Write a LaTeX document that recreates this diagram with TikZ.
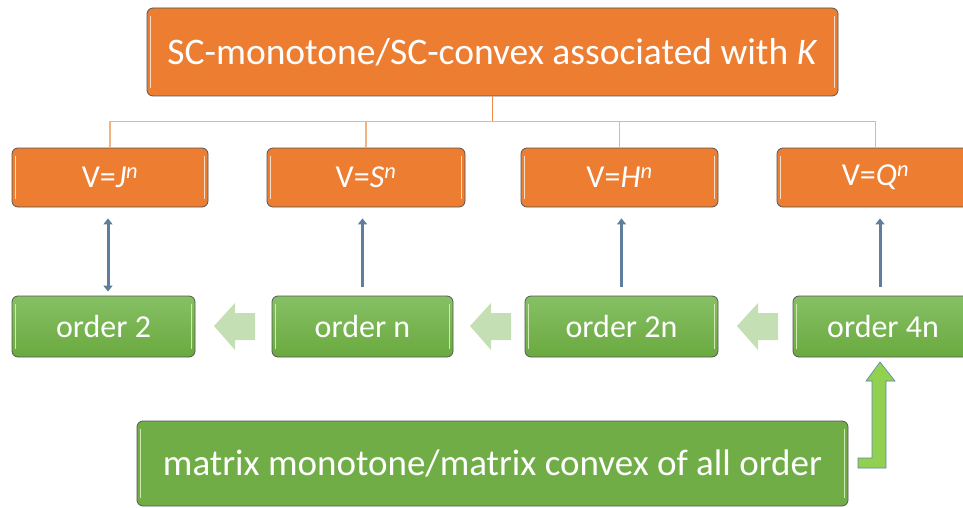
\documentclass[tikz,border=0pt]{standalone}
\usepackage{fontspec}
\setmainfont{Carlito}
\usetikzlibrary{arrows.meta}
\definecolor{orangefill}{HTML}{ED7D31}
\definecolor{greenfill}{HTML}{70AD47}
\definecolor{greenlight}{HTML}{86C064}
\definecolor{greendeep}{HTML}{6AA93F}
\definecolor{boxedge}{HTML}{555555}
\definecolor{treeline}{HTML}{F4B183}
\definecolor{treeroot}{HTML}{EE8A4A}
\definecolor{linkblue}{HTML}{5F7D9C}
\definecolor{stepgreen}{HTML}{C5DFB5}
\definecolor{liftgreen}{HTML}{92D050}
\definecolor{liftedge}{HTML}{5A82B8}
\definecolor{glossorange}{HTML}{FBDCC6}
\definecolor{glossgreen}{HTML}{CFEAB0}

\begin{document}
\begin{tikzpicture}[x=1pt,y=-1pt,
  box/.style={rectangle, rounded corners=6pt, draw=boxedge, line width=0.8pt,
    text=white, inner sep=0pt, align=center},
  headbox/.style={box, fill=orangefill, font=\fontsize{37.5}{40}\selectfont},
  spacebox/.style={box, fill=orangefill, minimum height=59pt,
    font=\fontsize{32}{36}\selectfont},
  orderbox/.style={box, top color=greenlight, bottom color=greendeep,
    minimum height=61pt, font=\fontsize{32}{36}\selectfont},
  allbox/.style={box, fill=greenfill, font=\fontsize{37}{40}\selectfont},
  tree/.style={draw=treeline, line width=1.4pt},
  link/.style={draw=linkblue, line width=3pt,
    -{Triangle[length=6pt,width=9pt]}},
  twolink/.style={draw=linkblue, line width=3pt,
    {Triangle[length=6pt,width=9pt]}-{Triangle[length=6pt,width=9pt]}},
  stepflow/.style={fill=stepgreen},
  lift/.style={fill=liftgreen, draw=liftedge, line width=0.6pt},
  glosso/.style={draw=glossorange, line width=1.3pt},
  glossg/.style={draw=glossgreen, line width=1.3pt}
]
\useasboundingbox (0,0) rectangle (963,508);
\clip (0,0) rectangle (963,508);

% head box
\node[headbox, minimum width=691pt, minimum height=88pt] (head) at (492.5,52)
  {SC-monotone/SC-convex associated with \textit{K}};

% the four spaces
\node[spacebox, minimum width=196pt] (vj) at (110,177.5) {V=\textit{J}\textsuperscript{\textit{n}}};
\node[spacebox, minimum width=198pt] (vs) at (366,177.5) {V=\textit{S}\textsuperscript{\textit{n}}};
\node[spacebox, minimum width=197pt] (vh) at (619.5,177.5) {V=\textit{H}\textsuperscript{\textit{n}}};
\node[spacebox, minimum width=197pt] (vq) at (875.5,177.5) {V=\textit{Q}\textsuperscript{\textit{n}}};

% the four orders
\node[orderbox, minimum width=183pt] (o2) at (103.5,326.5) {order 2};
\node[orderbox, minimum width=181pt] (on) at (362.5,326.5) {order n};
\node[orderbox, minimum width=193pt] (o2n) at (621.5,326.5) {order 2n};
\node[orderbox, minimum width=180pt] (o4n) at (883,326.5) {order 4n};

% all orders
\node[allbox, minimum width=711pt, minimum height=85pt] (all) at (492.5,463.5)
  {matrix monotone/matrix convex of all order};

% bevel highlights along the box sides
\foreach \n in {head,vj,vs,vh,vq} {
  \draw[glosso] ([xshift=4pt,yshift=-8pt]\n.north west) -- ([xshift=4pt,yshift=8pt]\n.south west);
  \draw[glosso] ([xshift=-4pt,yshift=-8pt]\n.north east) -- ([xshift=-4pt,yshift=8pt]\n.south east);
}
\foreach \n in {o2,on,o2n,o4n,all} {
  \draw[glossg] ([xshift=4pt,yshift=-8pt]\n.north west) -- ([xshift=4pt,yshift=8pt]\n.south west);
  \draw[glossg] ([xshift=-4pt,yshift=-8pt]\n.north east) -- ([xshift=-4pt,yshift=8pt]\n.south east);
}

% tree from the head box to the spaces
\draw[tree, draw=treeroot] (head.south) -- ++(0,25) coordinate (bus);
\foreach \n in {vj,vs,vh,vq}
  \draw[tree] (\n.north) |- (bus);

% links between orders and spaces
\draw[twolink, shorten >=11pt] ([xshift=4.5pt,yshift=4pt]o2.north) -- ([xshift=4.5pt]o2.north |- vj.south);
\draw[link, shorten >=11pt] ([yshift=9pt]on.north) -- (on.north |- vs.south);
\draw[link, shorten >=11pt] ([yshift=9pt]o2n.north) -- (o2n.north |- vh.south);
\draw[link, shorten >=11pt] ([xshift=-3pt,yshift=9pt]o4n.north) -- ([xshift=-3pt]o4n.north |- vq.south);

% block arrows between the orders
\foreach \t in {214,470,737}
  \fill[stepflow] (\t,326) -- (\t+21,303) -- (\t+21,313) -- (\t+41,313)
    -- (\t+41,340) -- (\t+21,340) -- (\t+21,350) -- cycle;

% bent arrow from all orders up to order 4n
\draw[lift] (858,458) -- (872,458) -- (872,381) -- (866,381) -- (880,362)
  -- (895,381) -- (886,381) -- (886,468) -- (858,468) -- cycle;
\end{tikzpicture}
\end{document}
